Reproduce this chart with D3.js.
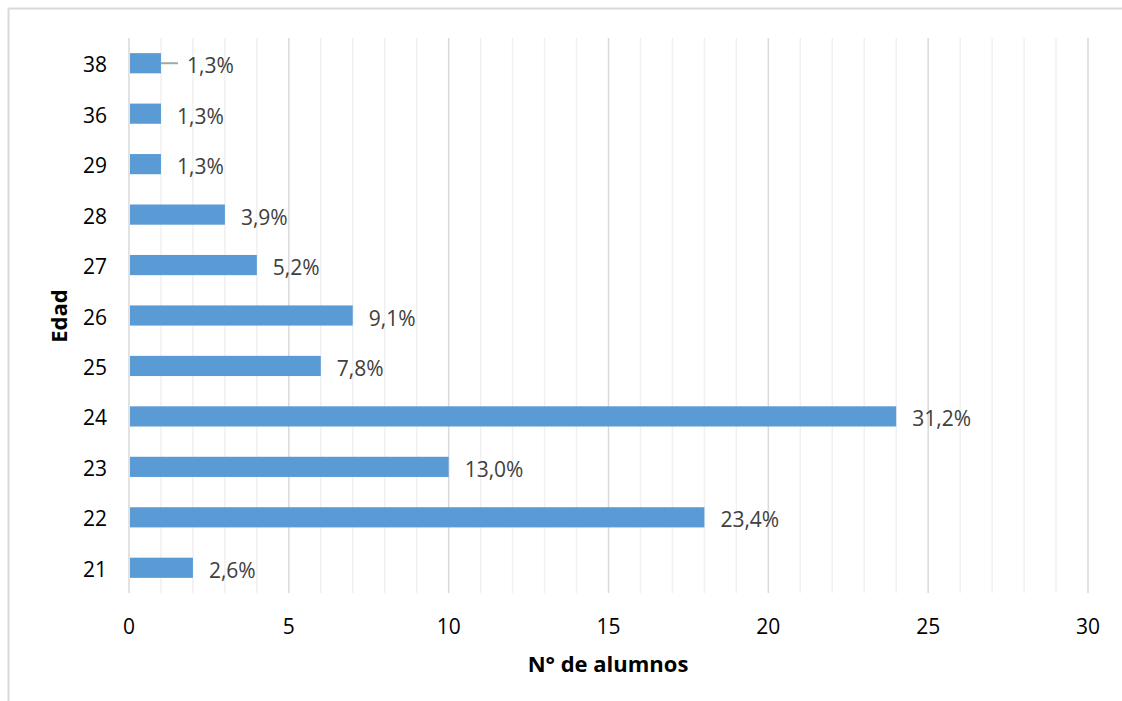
<!DOCTYPE html>
<html>
<head>
<meta charset="utf-8">
<script src="https://cdn.jsdelivr.net/npm/d3@7"></script>
<style>
  body { margin: 0; background: #fff; }
  svg { display: block; font-family: "Open Sans", "Noto Sans", sans-serif; }
</style>
</head>
<body>
<div id="chart"></div>
<script>
// datos
const edades = ["21", "22", "23", "24", "25", "26", "27", "28", "29", "36", "38"];
const alumnos = [2, 18, 10, 24, 6, 7, 4, 3, 1, 1, 1];
const porcentajes = ["2,6%", "23,4%", "13,0%", "31,2%", "7,8%", "9,1%", "5,2%", "3,9%", "1,3%", "1,3%", "1,3%"];
const xTicks = [0, 5, 10, 15, 20, 25, 30];

const width = 1122, height = 701;
const margin = { top: 38, right: 34, bottom: 108, left: 129 };

const svg = d3.select("#chart").append("svg")
  .attr("width", width)
  .attr("height", height);

// borde del grafico
svg.append("line").attr("x1", 8.5).attr("x2", width).attr("y1", 8.5).attr("y2", 8.5)
  .attr("stroke", "#d9d9d9").attr("stroke-width", 2);
svg.append("line").attr("x1", 8.5).attr("x2", 8.5).attr("y1", 8.5).attr("y2", height)
  .attr("stroke", "#d9d9d9").attr("stroke-width", 2);

const x = d3.scaleLinear()
  .domain([0, 30])
  .range([margin.left, width - margin.right]);

const y = d3.scaleBand()
  .domain(edades.slice().reverse())
  .range([margin.top, height - margin.bottom])
  .paddingInner(0.6)
  .paddingOuter(0.3);

// lineas de cuadricula menores
svg.append("g").selectAll("line")
  .data(d3.range(0, 31).filter(v => v % 5 !== 0))
  .join("line")
  .attr("x1", d => x(d)).attr("x2", d => x(d))
  .attr("y1", margin.top).attr("y2", height - margin.bottom)
  .attr("stroke", "#f0f0f0").attr("stroke-width", 1.5);

// lineas principales
svg.append("g").selectAll("line")
  .data(xTicks)
  .join("line")
  .attr("x1", d => x(d)).attr("x2", d => x(d))
  .attr("y1", margin.top).attr("y2", height - margin.bottom)
  .attr("stroke", "#d9d9d9").attr("stroke-width", 1.5);

// barras
const filas = edades.map((e, i) => ({ edad: e, n: alumnos[i], pct: porcentajes[i] }));

svg.append("g").selectAll("rect")
  .data(filas)
  .join("rect")
  .attr("x", x(0) + 1)
  .attr("y", d => y(d.edad))
  .attr("width", d => x(d.n) - x(0) - 1)
  .attr("height", y.bandwidth())
  .attr("fill", "#5b9bd5");

// linea guia para 38
const guia = filas.find(d => d.edad === "38");
svg.append("line")
  .attr("x1", x(guia.n)).attr("x2", x(guia.n) + 17)
  .attr("y1", y(guia.edad) + y.bandwidth() / 2)
  .attr("y2", y(guia.edad) + y.bandwidth() / 2)
  .attr("stroke", "#a6a6a6").attr("stroke-width", 2);

// etiquetas de porcentaje
svg.append("g").selectAll("text")
  .data(filas)
  .join("text")
  .attr("x", d => x(d.n) + (d.edad === "38" ? 26 : 16))
  .attr("y", d => y(d.edad) + y.bandwidth() / 2 + 2)
  .attr("dominant-baseline", "central")
  .attr("font-size", "21px")
  .attr("fill", "#404040")
  .text(d => d.pct);

// eje y
svg.append("g").selectAll("text")
  .data(edades)
  .join("text")
  .attr("x", 107)
  .attr("y", d => y(d) + y.bandwidth() / 2 + 1)
  .attr("text-anchor", "end")
  .attr("dominant-baseline", "central")
  .attr("font-size", "21px")
  .attr("fill", "#000")
  .text(d => d);

// eje x
svg.append("g").selectAll("text")
  .data(xTicks)
  .join("text")
  .attr("x", d => x(d))
  .attr("y", 626)
  .attr("text-anchor", "middle")
  .attr("dominant-baseline", "central")
  .attr("font-size", "21px")
  .attr("fill", "#000")
  .text(d => d);

// titulos
svg.append("text")
  .attr("x", 608).attr("y", 663)
  .attr("text-anchor", "middle")
  .attr("dominant-baseline", "central")
  .attr("font-size", "22px")
  .attr("font-weight", "bold")
  .text("N° de alumnos");

svg.append("text")
  .attr("transform", "translate(58,316) rotate(-90)")
  .attr("text-anchor", "middle")
  .attr("dominant-baseline", "central")
  .attr("font-size", "22px")
  .attr("font-weight", "bold")
  .text("Edad");
</script>
</body>
</html>
